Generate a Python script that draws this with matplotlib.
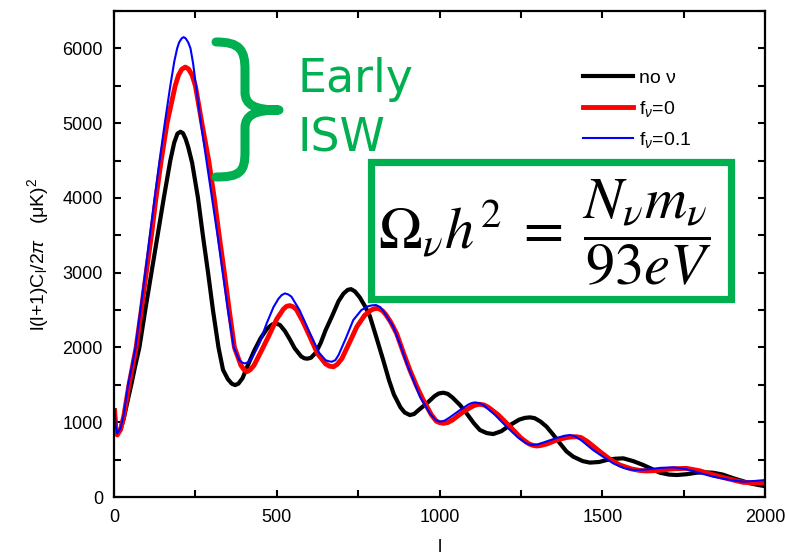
import matplotlib.pyplot as plt
from matplotlib.path import Path
from matplotlib.patches import PathPatch, Rectangle

plt.rcParams["font.family"] = ["Liberation Sans", "DejaVu Sans"]
plt.rcParams["mathtext.fontset"] = "custom"
plt.rcParams["mathtext.rm"] = "Liberation Sans"
plt.rcParams["mathtext.it"] = "Liberation Sans:italic"

GREEN = "#00b050"

# multipole l and l(l+1)C_l/2pi for the three models
l_none = [2, 5, 10, 20, 30, 40, 53, 65, 78, 96, 115, 134, 153, 173, 185, 195, 204, 212, 220,
          228, 240, 258, 273, 289, 304, 321, 335, 350, 362, 372, 382, 395, 410, 430, 450, 470,
          485, 498, 510, 525, 540, 555, 575, 585, 594, 605, 620, 635, 650, 670, 690, 705, 718,
          728, 740, 755, 770, 786, 805, 827, 845, 860, 880, 893, 909, 922, 935, 961, 985, 998,
          1012, 1025, 1040, 1063, 1083, 1105, 1124, 1145, 1165, 1190, 1217, 1245, 1262, 1278,
          1292, 1310, 1329, 1350, 1370, 1390, 1411, 1440, 1462, 1490, 1514, 1540, 1565, 1595,
          1626, 1650, 1677, 1705, 1729, 1760, 1790, 1815, 1840, 1870, 1903, 1930, 1954, 1980,
          2000]
cl_none = [1160, 950, 855, 900, 1050, 1250, 1500, 1750, 2000, 2500, 3000, 3500, 4000, 4500,
           4740, 4860, 4885, 4865, 4790, 4680, 4470, 4000, 3500, 3000, 2500, 2000, 1700, 1575,
           1515, 1497, 1515, 1590, 1750, 1950, 2120, 2250, 2305, 2320, 2300, 2220, 2110, 1990,
           1880, 1855, 1850, 1862, 1930, 2060, 2230, 2420, 2620, 2720, 2770, 2780, 2750, 2670,
           2560, 2420, 2150, 1832, 1560, 1370, 1200, 1130, 1096, 1110, 1160, 1253, 1350, 1385,
           1395, 1380, 1330, 1230, 1120, 990, 896, 855, 842, 880, 963, 1035, 1058, 1065, 1055,
           1010, 940, 830, 718, 610, 539, 480, 460, 468, 495, 512, 517, 480, 428, 380, 325,
           300, 294, 305, 325, 330, 325, 300, 250, 215, 183, 160, 145]

l_f0 = [2, 5, 10, 20, 30, 46, 57, 68, 84, 99, 115, 129, 145, 163, 188, 198, 208, 219, 229,
        240, 250, 270, 291, 308, 323, 339, 354, 370, 390, 400, 408, 418, 430, 450, 475, 500,
        520, 530, 540, 550, 560, 580, 602, 625, 650, 662, 674, 686, 700, 725, 746, 770, 790,
        800, 812, 825, 835, 850, 868, 890, 909, 930, 950, 975, 990, 1000, 1012, 1025, 1040,
        1073, 1100, 1112, 1124, 1137, 1150, 1180, 1217, 1250, 1275, 1288, 1299, 1312, 1330,
        1360, 1390, 1408, 1421, 1435, 1455, 1493, 1525, 1554, 1590, 1615, 1636, 1660, 1680,
        1720, 1759, 1800, 1830, 1862, 1900, 1933, 1965, 2000]
cl_f0 = [1150, 930, 830, 900, 1080, 1500, 1750, 2000, 2500, 3000, 3500, 4000, 4500, 5000,
         5500, 5640, 5720, 5750, 5725, 5640, 5500, 5000, 4500, 4000, 3500, 3000, 2500, 2000,
         1760, 1700, 1676, 1700, 1760, 1930, 2150, 2380, 2510, 2550, 2560, 2545, 2510, 2350,
         2143, 1920, 1780, 1750, 1742, 1775, 1850, 2080, 2277, 2430, 2500, 2518, 2523, 2490,
         2440, 2340, 2189, 1920, 1698, 1480, 1297, 1100, 1015, 995, 985, 995, 1030, 1140, 1210,
         1232, 1240, 1230, 1200, 1100, 940, 790, 710, 690, 682, 690, 710, 762, 795, 804, 806,
         795, 740, 606, 500, 428, 375, 355, 348, 352, 360, 378, 383, 350, 310, 272, 230, 196,
         190, 191]

l_f01 = [2, 5, 10, 20, 30, 43, 55, 66, 81, 96, 110, 125, 140, 156, 173, 185, 194, 200, 208,
         214, 220, 228, 235, 243, 250, 267, 284, 301, 318, 334, 350, 368, 385, 395, 402, 412,
         425, 445, 469, 490, 505, 515, 525, 535, 545, 570, 602, 630, 650, 660, 669, 680, 690,
         712, 735, 760, 780, 792, 805, 818, 830, 858, 880, 899, 920, 940, 970, 988, 1001, 1015,
         1030, 1063, 1090, 1100, 1109, 1120, 1135, 1170, 1206, 1240, 1265, 1277, 1288, 1300,
         1320, 1360, 1385, 1401, 1415, 1435, 1472, 1505, 1534, 1565, 1580, 1595, 1615, 1640,
         1680, 1718, 1760, 1800, 1841, 1890, 1933, 1970, 2000]
cl_f01 = [1160, 950, 850, 920, 1100, 1500, 1750, 2000, 2500, 3000, 3500, 4000, 4500, 5000,
          5500, 5820, 6000, 6080, 6135, 6150, 6135, 6080, 6000, 5800, 5560, 5000, 4500, 4000,
          3500, 3000, 2500, 2000, 1830, 1795, 1787, 1800, 1870, 2040, 2322, 2540, 2650, 2700,
          2723, 2710, 2680, 2500, 2189, 1930, 1830, 1815, 1809, 1830, 1900, 2120, 2366, 2500,
          2550, 2563, 2567, 2540, 2470, 2277, 2030, 1787, 1560, 1341, 1120, 1030, 1007, 1020,
          1060, 1163, 1240, 1258, 1265, 1258, 1230, 1100, 940, 800, 720, 702, 695, 702, 730,
          790, 820, 829, 815, 760, 628, 530, 450, 390, 372, 361, 362, 370, 390, 397, 370, 320,
          271, 230, 205, 215, 227]

fig = plt.figure(figsize=(7.86, 5.57), dpi=100)
ax = fig.add_axes([114 / 786, 60 / 557, 651 / 786, 486 / 557])

ax.plot(l_none, cl_none, color="black", lw=3.0, label="no ν")
ax.plot(l_f0, cl_f0, color="red", lw=3.5, label=r"f$_{\nu}$=0")
ax.plot(l_f01, cl_f01, color="blue", lw=1.5, label=r"f$_{\nu}$=0.1")

ax.set_xlim(0, 2000)
ax.set_ylim(0, 6500)
ax.set_xticks([0, 500, 1000, 1500, 2000])
ax.set_xticks([250, 750, 1250, 1750], minor=True)
ax.set_yticks(range(0, 6001, 1000))
ax.set_yticks(range(500, 6501, 1000), minor=True)
ax.tick_params(which="both", direction="in", length=5, width=1.5,
               top=True, right=True, labelsize=13)
ax.tick_params(axis="y", pad=8)
ax.tick_params(axis="x", pad=9)
for s in ax.spines.values():
    s.set_linewidth(1.6)

ax.set_xlabel("l", fontsize=13, labelpad=9)
ax.set_ylabel(r"l(l+1)C$_\mathregular{l}$/2$\pi$   (μK)$^\mathregular{2}$", fontsize=14,
              labelpad=8)

ax.legend(loc="upper left", bbox_to_anchor=(0.72, 0.88), frameon=False, fontsize=14,
          handlelength=2.6, handletextpad=0.3, labelspacing=0.6, borderpad=0,
          borderaxespad=0)

# curly brace next to the first peak, drawn in pixel space
def px(x, y):
    return (x / 786, 1 - y / 557)

brace_pts = [(216, 42), (240, 42), (245, 50), (245, 70), (245, 92),
             (245, 105), (255, 110), (279, 110),
             (255, 110), (245, 115), (245, 128), (245, 152),
             (245, 172), (240, 177), (216, 177)]
codes = [Path.MOVETO, Path.CURVE4, Path.CURVE4, Path.CURVE4, Path.LINETO,
         Path.CURVE4, Path.CURVE4, Path.CURVE4,
         Path.CURVE4, Path.CURVE4, Path.CURVE4, Path.LINETO,
         Path.CURVE4, Path.CURVE4, Path.CURVE4]
brace = PathPatch(Path([px(*p) for p in brace_pts], codes), transform=fig.transFigure,
                  fill=False, edgecolor=GREEN, lw=6.5, capstyle="round", joinstyle="round")
fig.patches.append(brace)

fig.text(297 / 786, 1 - 80 / 557, "Early", color=GREEN, fontsize=33, va="center",
         family="DejaVu Sans")
fig.text(297 / 786, 1 - 139 / 557, "ISW", color=GREEN, fontsize=33, va="center",
         family="DejaVu Sans")

# boxed formula for the neutrino density
box = Rectangle(px(370.5, 298.5), 360 / 786, 137 / 557, transform=fig.transFigure,
                facecolor="white", edgecolor=GREEN, lw=5.2, zorder=5)
fig.patches.append(box)
fig.text(545 / 786, 1 - 232 / 557,
         r"$\Omega_{\nu}h^2 \;=\; \dfrac{N_{\nu}m_{\nu}}{93eV}$",
         fontsize=42, ha="center", va="center", math_fontfamily="stix", zorder=6)

fig.savefig("out.png", dpi=100)
